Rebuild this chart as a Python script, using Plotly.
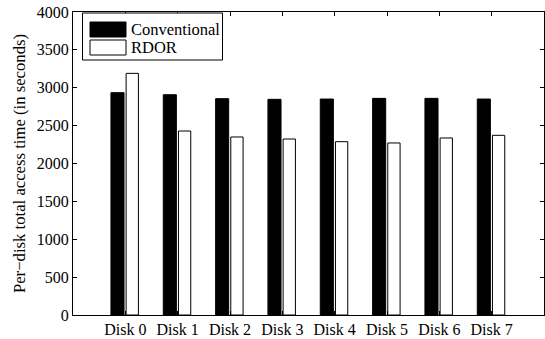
import plotly.graph_objects as go

categories = ["Disk 0", "Disk 1", "Disk 2", "Disk 3", "Disk 4", "Disk 5", "Disk 6", "Disk 7"]
conventional = [2935, 2908, 2856, 2847, 2851, 2860, 2860, 2851]
rdor = [3190, 2429, 2350, 2323, 2288, 2271, 2337, 2372]
y_ticks = [0, 500, 1000, 1500, 2000, 2500, 3000, 3500, 4000]
series_names = ["Conventional", "RDOR"]
series_fill = ["black", "white"]

x_idx = list(range(len(categories)))

FAM = "Liberation Serif"
W, H = 545, 339
ML, MR, MT, MB = 73, 1, 12, 24
PW, PH = W - ML - MR, H - MT - MB

def px(x):
    return (x - ML) / PW

def py(y):
    return (H - MB - y) / PH

fig = go.Figure()
fig.add_trace(go.Bar(
    x=x_idx, y=conventional, name=series_names[0],
    marker=dict(color=series_fill[0], line=dict(color="black", width=1)),
    width=0.25, offset=-0.275,
))
fig.add_trace(go.Bar(
    x=x_idx, y=rdor, name=series_names[1],
    marker=dict(color=series_fill[1], line=dict(color="black", width=1)),
    width=0.235, offset=0.015,
))

font = dict(family=FAM, size=16, color="black")

# legend drawn as box + swatches + text labels
shapes = [
    dict(type="rect", xref="paper", yref="paper",
         x0=px(82.5), x1=px(222.5), y0=py(60), y1=py(13),
         line=dict(color="black", width=1), fillcolor="white", layer="above"),
]
annotations = []
rows = [(22, 37), (40, 55)]
for (top, bot), name, fill in zip(rows, series_names, series_fill):
    shapes.append(dict(type="rect", xref="paper", yref="paper",
                       x0=px(90), x1=px(126), y0=py(bot), y1=py(top),
                       line=dict(color="black", width=1), fillcolor=fill, layer="above"))
    annotations.append(dict(xref="paper", yref="paper", x=px(129), y=py((top + bot) / 2),
                            xanchor="left", yanchor="middle", showarrow=False,
                            text=name, font=dict(family=FAM, size=16.5, color="black")))

fig.update_layout(
    width=W, height=H,
    margin=dict(l=ML, r=MR, t=MT, b=MB),
    paper_bgcolor="white", plot_bgcolor="white",
    barmode="overlay",
    font=font,
    showlegend=False,
    shapes=shapes,
    annotations=annotations,
    xaxis=dict(
        range=[-1, 8],
        tickmode="array", tickvals=x_idx, ticktext=categories,
        tickfont=font,
        ticks="inside", ticklen=4, tickcolor="black",
        showline=True, linecolor="black", linewidth=1, mirror="ticks",
        showgrid=False, zeroline=False,
    ),
    yaxis=dict(
        range=[0, 4000],
        tickmode="array", tickvals=y_ticks, ticktext=[str(v) for v in y_ticks],
        tickfont=font,
        ticks="inside", ticklen=4, tickcolor="black",
        showline=True, linecolor="black", linewidth=1, mirror="ticks",
        showgrid=False, zeroline=False,
        title=dict(text="Per\u2212disk total access time (in seconds)", standoff=6,
                   font=dict(family=FAM, size=16.7, color="black")),
    ),
)

fig.write_html("out.html")
